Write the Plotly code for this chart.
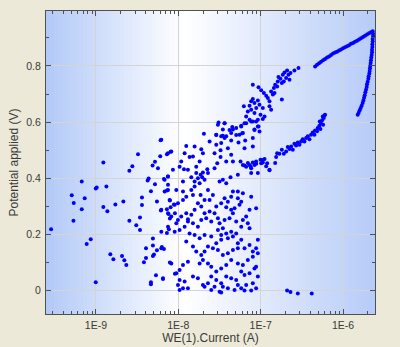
import plotly.graph_objects as go

# ---- data (log10 of current in A, potential in V) ----
# scattered cloud left of 1E-8
cloud_left_logI = [-8.489, -8.910, -8.219, -8.138, -8.093, -8.215, -8.283, -8.312, -8.247, -8.558,
                   -8.594, -9.172, -9.002, -8.990, -8.873, -8.372, -8.360, -8.283, -8.174, -8.126,
                   -8.138, -8.332, -8.441, -9.293, -9.136, -9.269, -8.910, -8.861, -8.764, -8.667,
                   -8.441, -8.259, -8.102, -8.053, -9.172, -8.211, -8.138, -8.118, -8.102, -8.041,
                   -9.273, -8.594, -8.465, -8.510, -8.465, -8.114, -8.138, -9.544, -9.063, -9.112,
                   -8.308, -8.308, -8.392, -8.259, -8.199, -8.174, -8.295, -8.308, -8.392, -8.417,
                   -8.102, -8.825, -8.788, -8.683, -8.655, -8.631, -8.271, -8.186, -8.041, -9.002,
                   -8.332, -8.332]
cloud_left_V = [0.485, 0.456, 0.478, 0.485, 0.494, 0.535, 0.458, 0.445, 0.435, 0.442,
                0.426, 0.388, 0.363, 0.367, 0.370, 0.392, 0.399, 0.378, 0.397, 0.406,
                0.356, 0.353, 0.331, 0.339, 0.328, 0.311, 0.297, 0.282, 0.306, 0.317,
                0.304, 0.317, 0.320, 0.306, 0.289, 0.285, 0.289, 0.272, 0.256, 0.275,
                0.248, 0.248, 0.260, 0.232, 0.215, 0.218, 0.204, 0.218, 0.182, 0.165,
                0.185, 0.160, 0.150, 0.143, 0.154, 0.147, 0.128, 0.122, 0.115, 0.100,
                0.099, 0.129, 0.111, 0.122, 0.107, 0.090, 0.054, 0.040, 0.059, 0.029,
                0.029, 0.022]

# dense cloud between 1E-8 and 1E-7
cloud_mid_logI = [-7.511, -7.438, -7.345, -7.236, -7.176, -7.115, -7.055, -7.026, -7.075, -7.014,
                  -7.224, -7.297, -7.378, -7.459, -7.539, -7.689, -7.620, -7.539, -7.479, -7.358,
                  -7.269, -7.188, -7.438, -7.398, -7.487, -7.560, -7.721, -7.701, -7.802, -7.903,
                  -7.923, -7.863, -7.822, -7.487, -7.358, -7.196, -7.095, -6.974, -7.055, -6.994,
                  -7.075, -7.135, -7.115, -7.176, -7.216, -7.244, -7.337, -7.418, -7.527, -7.560,
                  -7.648, -7.741, -7.782, -7.883, -7.931, -7.984, -7.964, -8.125, -8.085, -8.206,
                  -6.921, -6.893, -7.034, -7.115, -7.277, -7.366, -7.459, -7.418, -7.499, -7.640,
                  -7.701, -7.729, -7.762, -7.741, -7.709, -7.681, -7.802, -7.842, -7.782, -7.943,
                  -8.065, -8.125, -8.166, -8.125, -8.125, -8.024, -7.943, -7.903, -7.943, -8.004,
                  -8.044, -8.105, -8.093, -8.125, -8.085, -8.004, -7.964, -7.903, -7.842, -7.883,
                  -7.802, -7.762, -7.721, -7.681, -7.729, -7.822, -7.842, -7.802, -7.640, -7.580,
                  -7.620, -7.539, -7.479, -7.438, -7.398, -7.358, -7.337, -7.277, -7.216, -7.277,
                  -7.236, -7.257, -7.317, -7.358, -7.418, -7.337, -7.115, -7.055, -7.135, -7.176,
                  -7.216, -7.156, -7.135, -7.236, -7.297, -7.378, -7.438, -7.519, -7.560, -7.620,
                  -7.681, -7.661, -7.600, -7.721, -7.762, -7.822, -7.883, -7.923, -7.984, -8.024,
                  -8.125, -8.044, -7.499, -7.459, -7.519, -7.479, -7.418, -7.358, -7.297, -7.236,
                  -7.277, -7.337, -7.398, -7.479, -7.539, -7.600, -7.681, -7.741, -7.802, -7.863,
                  -7.903, -7.822, -7.782, -7.721, -7.681, -7.640, -7.580, -7.519, -7.459, -7.398,
                  -7.337, -7.277, -7.196, -7.135, -7.055, -7.034, -7.095, -7.156, -7.216, -7.277,
                  -7.358, -7.418, -7.479, -7.539, -7.600, -7.640, -7.701, -7.741, -7.883, -7.943,
                  -7.984, -8.024, -8.085, -8.206, -8.186, -7.984, -7.923, -7.822, -7.762, -7.701,
                  -7.640, -7.600, -7.539, -7.479, -7.418, -7.358, -7.297, -7.236, -7.196, -7.135,
                  -7.075, -7.034, -7.095, -7.176, -7.236, -7.277, -7.317, -7.398, -7.459, -7.499,
                  -7.560, -7.600, -7.681, -7.883, -7.943, -8.004, -7.984, -7.055, -7.115, -7.196,
                  -7.479, -7.034, -7.055, -7.095, -8.206, -8.166, -8.206]
cloud_mid_V = [0.598, 0.596, 0.582, 0.584, 0.596, 0.602, 0.602, 0.584, 0.572, 0.566,
               0.560, 0.554, 0.572, 0.551, 0.554, 0.558, 0.531, 0.519, 0.525, 0.534,
               0.527, 0.534, 0.543, 0.507, 0.499, 0.489, 0.503, 0.489, 0.513, 0.515,
               0.489, 0.475, 0.477, 0.475, 0.483, 0.507, 0.513, 0.465, 0.459, 0.453,
               0.447, 0.447, 0.435, 0.441, 0.447, 0.459, 0.459, 0.459, 0.453, 0.435,
               0.432, 0.459, 0.441, 0.430, 0.432, 0.441, 0.459, 0.489, 0.495, 0.537,
               0.453, 0.430, 0.418, 0.418, 0.412, 0.403, 0.394, 0.382, 0.388, 0.418,
               0.420, 0.412, 0.400, 0.382, 0.403, 0.394, 0.388, 0.403, 0.418, 0.388,
               0.430, 0.406, 0.394, 0.376, 0.358, 0.358, 0.352, 0.334, 0.322, 0.310,
               0.305, 0.322, 0.296, 0.275, 0.263, 0.251, 0.263, 0.275, 0.269, 0.253,
               0.287, 0.310, 0.299, 0.322, 0.340, 0.340, 0.358, 0.370, 0.358, 0.340,
               0.322, 0.299, 0.310, 0.328, 0.316, 0.334, 0.352, 0.352, 0.346, 0.328,
               0.316, 0.305, 0.293, 0.287, 0.296, 0.275, 0.334, 0.293, 0.287, 0.263,
               0.251, 0.239, 0.221, 0.227, 0.245, 0.257, 0.251, 0.257, 0.275, 0.281,
               0.275, 0.257, 0.245, 0.251, 0.227, 0.239, 0.245, 0.227, 0.215, 0.239,
               0.227, 0.209, 0.239, 0.221, 0.215, 0.197, 0.203, 0.209, 0.203, 0.180,
               0.168, 0.192, 0.186, 0.180, 0.168, 0.192, 0.197, 0.186, 0.197, 0.203,
               0.174, 0.156, 0.138, 0.126, 0.138, 0.156, 0.150, 0.144, 0.126, 0.132,
               0.144, 0.150, 0.150, 0.162, 0.150, 0.132, 0.120, 0.108, 0.090, 0.096,
               0.108, 0.090, 0.078, 0.067, 0.084, 0.096, 0.108, 0.096, 0.102, 0.090,
               0.072, 0.061, 0.096, 0.150, 0.043, 0.037, 0.031, 0.049, 0.043, 0.019,
               0.025, 0.049, 0.037, 0.025, 0.049, 0.043, 0.037, 0.067, 0.055, 0.061,
               0.078, 0.049, 0.025, 0.019, 0.007, 0.019, 0.001, 0.007, 0.013, -0.005,
               0.013, 0.001, 0.013, 0.007, 0.007, 0.019, 0.001, 0.007, -0.001, -0.001,
               -0.008, 0.180, 0.084, 0.138, 0.287, 0.352, 0.209]

# upper diagonal band (around 1E-7, 0.55-0.8 V)
band_logI = [-7.095, -7.026, -6.994, -6.961, -6.933, -6.913, -6.873, -6.840, -6.824, -6.792,
             -6.760, -6.731, -6.711, -6.679, -6.663, -6.691, -6.650, -6.638, -6.590, -6.541,
             -6.743, -6.800, -6.852, -6.893, -6.743, -6.832, -6.784, -6.719, -6.893, -6.873,
             -7.095, -7.115, -7.075, -7.034, -7.014, -7.135, -7.054, -6.974, -7.115, -7.156,
             -7.075, -7.204, -7.002, -6.953, -7.176, -7.135, -7.095, -7.034, -6.974, -7.196,
             -7.236, -7.034, -7.075, -7.216, -7.297, -7.337, -7.438, -7.519, -7.459, -7.539,
             -7.418, -7.358, -7.095, -7.257, -7.479]
band_V = [0.733, 0.724, 0.713, 0.704, 0.694, 0.686, 0.709, 0.721, 0.733, 0.745,
          0.754, 0.769, 0.777, 0.784, 0.769, 0.757, 0.751, 0.775, 0.784, 0.793,
          0.739, 0.727, 0.698, 0.674, 0.680, 0.704, 0.761, 0.745, 0.656, 0.644,
          0.682, 0.674, 0.668, 0.677, 0.662, 0.658, 0.650, 0.650, 0.644, 0.638,
          0.632, 0.656, 0.626, 0.620, 0.620, 0.608, 0.602, 0.608, 0.611, 0.596,
          0.587, 0.584, 0.573, 0.561, 0.579, 0.573, 0.596, 0.590, 0.573, 0.555,
          0.549, 0.561, 0.543, 0.555, 0.549]

# lower branch (0.43-0.63 V)
lower_logI = [-7.196, -7.155, -7.123, -7.095, -7.054, -7.002, -6.974, -6.953, -6.933, -6.893,
              -6.824, -6.812, -6.800, -6.772, -6.743, -6.719, -6.691, -6.671, -6.650, -6.630,
              -6.610, -6.590, -6.570, -6.549, -6.529, -6.509, -6.489, -6.469, -6.448, -6.428,
              -6.408, -6.388, -6.368, -6.347, -6.339, -6.315, -6.307, -6.287, -6.275, -6.267,
              -6.254, -6.242, -6.234, -6.226, -6.218, -6.246, -6.283]
lower_V = [0.445, 0.454, 0.442, 0.456, 0.451, 0.466, 0.456, 0.468, 0.442, 0.428,
           0.454, 0.475, 0.489, 0.487, 0.501, 0.487, 0.495, 0.511, 0.504, 0.513,
           0.501, 0.523, 0.516, 0.527, 0.519, 0.531, 0.539, 0.531, 0.543, 0.549,
           0.539, 0.555, 0.563, 0.555, 0.570, 0.567, 0.579, 0.587, 0.575, 0.596,
           0.606, 0.590, 0.614, 0.623, 0.626, 0.620, 0.602]

# points near 0 V beyond 1E-7
base_logI = [-6.679, -6.638, -6.549, -6.380]
base_V = [-0.001, -0.006, -0.011, -0.011]

# high-current loop: rising part then falling part
loop_up_logI = [-6.339, -6.315, -6.291, -6.267, -6.242, -6.218, -6.194, -6.170, -6.145, -6.121,
                -6.097, -6.073, -6.048, -6.024, -6.000, -5.976, -5.951, -5.927, -5.903, -5.879,
                -5.855, -5.830, -5.806, -5.782, -5.758, -5.733, -5.709, -5.685, -5.661, -5.640]
loop_up_V = [0.798, 0.804, 0.810, 0.815, 0.820, 0.825, 0.830, 0.834, 0.839, 0.844,
             0.848, 0.851, 0.855, 0.859, 0.863, 0.867, 0.870, 0.874, 0.879, 0.882,
             0.886, 0.890, 0.894, 0.899, 0.903, 0.908, 0.912, 0.917, 0.920, 0.924]
loop_down_logI = [-5.636, -5.636, -5.640, -5.640, -5.644, -5.644, -5.648, -5.648, -5.652, -5.657,
                  -5.661, -5.665, -5.669, -5.673, -5.677, -5.681, -5.689, -5.693, -5.701, -5.709,
                  -5.713, -5.721, -5.729, -5.737, -5.745, -5.753, -5.762, -5.774, -5.786, -5.798,
                  -5.810, -5.822]
loop_down_V = [0.915, 0.906, 0.896, 0.887, 0.877, 0.868, 0.858, 0.849, 0.839, 0.830,
               0.820, 0.811, 0.801, 0.792, 0.782, 0.773, 0.763, 0.754, 0.744, 0.735,
               0.725, 0.715, 0.706, 0.696, 0.687, 0.677, 0.668, 0.658, 0.650, 0.642,
               0.633, 0.626]

x_tick_vals = [1e-9, 1e-8, 1e-7, 1e-6]
x_tick_text = ["1E-9", "1E-8", "1E-7", "1E-6"]
y_tick_vals = [0, 0.2, 0.4, 0.6, 0.8]
y_tick_text = ["0", "0.2", "0.4", "0.6", "0.8"]

# ---- build figure ----
all_logI = cloud_left_logI + cloud_mid_logI + band_logI + lower_logI + base_logI + loop_up_logI + loop_down_logI
all_V = cloud_left_V + cloud_mid_V + band_V + lower_V + base_V + loop_up_V + loop_down_V
current = [10 ** v for v in all_logI]

fig = go.Figure()
fig.add_trace(go.Scatter(
    x=current, y=all_V, mode="markers",
    marker=dict(color="#0000ff", size=4, line=dict(width=0)),
    hoverinfo="skip", showlegend=False,
))

# horizontal gradient background: blue - white - blue
def mix(c1, c2, t):
    return "rgb(%d,%d,%d)" % tuple(round(a + (b - a) * t) for a, b in zip(c1, c2))

left_c = (178, 201, 247)
white = (255, 255, 255)
right_c = (182, 203, 248)
white_pos = 0.42
n = 80
shapes = []
for i in range(n):
    x0 = i / n
    x1 = (i + 1) / n
    xc = (x0 + x1) / 2
    if xc < white_pos:
        col = mix(left_c, white, xc / white_pos)
    else:
        col = mix(white, right_c, (xc - white_pos) / (1 - white_pos))
    shapes.append(dict(type="rect", xref="x domain", yref="y domain",
                       x0=x0, x1=x1 + 0.002, y0=0, y1=1, layer="below",
                       fillcolor=col, line=dict(width=0)))

minor_x = [m * 10 ** e for e in range(-10, -5) for m in range(2, 10)]

FONT = "Liberation Sans, Arial, sans-serif"
tick_font = dict(family=FONT, size=10.5, color="#3a3a3a")
title_font = dict(family=FONT, size=12, color="#3a3a3a")

fig.update_layout(
    width=400, height=347,
    margin=dict(l=46, r=25, t=11, b=33),
    paper_bgcolor="#ece9d8",
    plot_bgcolor="#ffffff",
    shapes=shapes,
    font=tick_font,
    xaxis=dict(
        type="log", range=[-9.606, -5.612], automargin=False,
        tickmode="array", tickvals=x_tick_vals, ticktext=x_tick_text,
        ticks="inside", ticklen=5, tickcolor="#505050", ticklabelstandoff=1,
        showline=True, linecolor="#505050", linewidth=1, mirror="allticks",
        showgrid=True, gridcolor="#d4d4d4", gridwidth=1, zeroline=False,
        minor=dict(tickmode="array", tickvals=minor_x, ticks="inside", ticklen=3,
                   tickcolor="#505050", showgrid=False),
        title=dict(text="WE(1).Current (A)", font=title_font, standoff=0),
        tickfont=tick_font,
    ),
    yaxis=dict(
        range=[-0.0845, 0.996], automargin=False,
        tickmode="array", tickvals=y_tick_vals, ticktext=y_tick_text,
        ticks="inside", ticklen=5, tickcolor="#505050", ticklabelstandoff=2,
        showline=True, linecolor="#505050", linewidth=1, mirror="allticks",
        showgrid=True, gridcolor="#d4d4d4", gridwidth=1, zeroline=False,
        minor=dict(tickmode="array", tickvals=[0.1, 0.3, 0.5, 0.7, 0.9], ticks="inside",
                   ticklen=3, tickcolor="#505050", showgrid=False),
        title=dict(text="Potential applied (V)", font=title_font, standoff=5),
        tickfont=tick_font,
    ),
)

fig.write_html("out.html")
